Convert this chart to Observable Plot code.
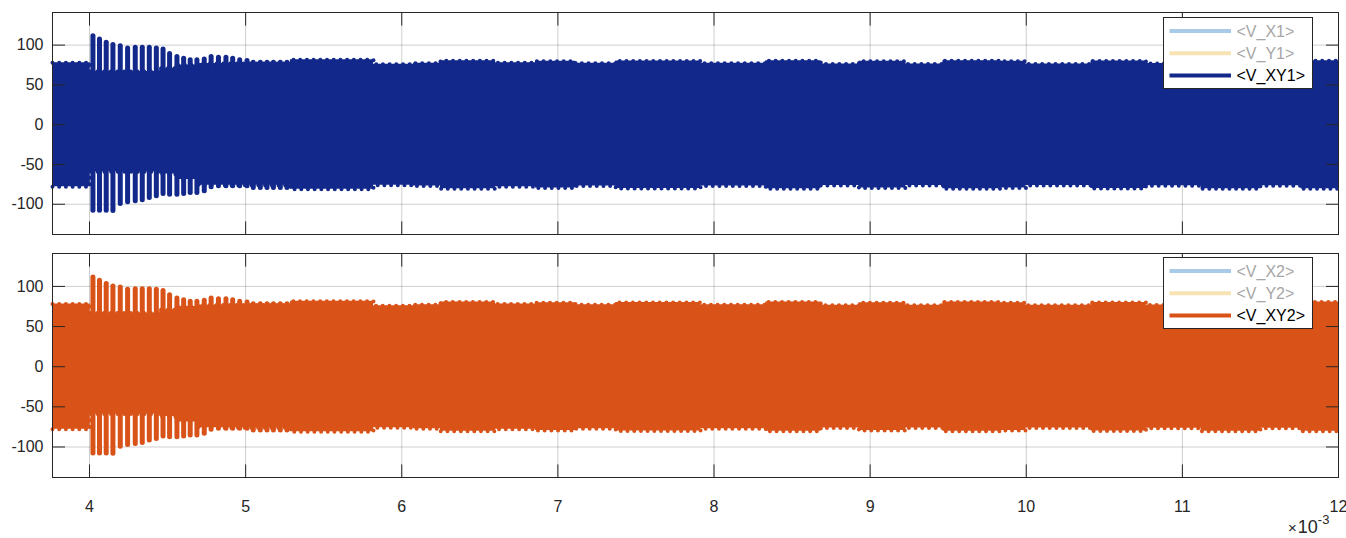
<!DOCTYPE html>
<html>
<head>
<meta charset="utf-8">
<script src="https://cdn.jsdelivr.net/npm/d3@7"></script>
<script src="https://cdn.jsdelivr.net/npm/@observablehq/plot@0.6"></script>
<style>
  html, body { margin: 0; padding: 0; background: #ffffff; }
  #wrap { position: relative; width: 1346px; height: 538px; font-family: "Liberation Sans", Arial, Helvetica, sans-serif; color: #262626; }
  .panel { position: absolute; left: 0; }
  .legend { position: absolute; left: 1163px; width: 150px; height: 72px; background: #fff; border: 1px solid #262626; box-sizing: border-box; }
  .legend svg, #mult svg { display: block; }
</style>
</head>
<body>
<div id="wrap">
  <div id="p1" class="panel" style="top:0px"></div>
  <div id="p2" class="panel" style="top:240px"></div>
  <div id="lg1" class="legend" style="top:17px"></div>
  <div id="lg2" class="legend" style="top:257px"></div>
  <div id="mult" style="position:absolute;left:1280px;top:506px;width:66px;height:32px"></div>
</div>
<script>
// ---- axis ticks ----
const xTicks = [4, 5, 6, 7, 8, 9, 10, 11, 12];
const yTicks = [-100, -50, 0, 50, 100];
const xDomain = [3.763, 12];
const yDomain = [-138, 141];

// ---- signal envelope (time in 1e-3 s, upper / lower envelope) ----
const envT  = [3.763, 4.005, 4.45, 4.55, 4.7, 5.287, 5.819, 6.075, 6.248, 6.601, 6.857, 7.113, 7.370, 7.914, 8.331, 8.684, 8.928, 9.229, 9.466, 9.838, 9.998, 10.415, 10.767, 11.12, 11.50, 11.76, 12];
const envHi = [78, 67, 71, 75, 77, 81.5, 76, 77.2, 80.5, 78, 79.6, 77.2, 80.1, 77.2, 80.5, 76.4, 79.6, 76.4, 80.5, 79.6, 76.4, 80.1, 76.8, 80.5, 76.6, 80.5, 80.5];
const envLo = [-78, -59, -62, -69, -76, -81, -76, -77.2, -80.5, -78, -79.6, -77.2, -80.1, -77.2, -80.5, -76.4, -79.6, -76.4, -80.5, -79.6, -76.4, -80.1, -76.8, -80.5, -76.6, -80.5, -80.5];

// ---- transient peaks after the step at t = 4e-3 ----
const peakT   = [4.022, 4.064, 4.107, 4.150, 4.197, 4.244, 4.293, 4.338, 4.383, 4.428, 4.471, 4.513, 4.560, 4.603, 4.645, 4.688, 4.735, 4.779, 4.826, 4.874, 4.917, 4.962, 5.009, 5.049, 5.094, 5.137, 5.178, 5.222, 5.265];
const peakTop = [111, 107, 103, 100, 98.5, 95.7, 96.6, 96.6, 96.6, 95.7, 94.4, 89, 85, 82.8, 81, 81, 82, 85, 84, 84, 82.8, 81, 80, 77.7, 77.7, 77.7, 77.7, 77.7, 77.7];
const peakBot = [-108, -108, -108, -108.5, -99.6, -97.4, -96.2, -94.9, -92, -89.9, -87, -87.9, -87.9, -87, -85.8, -85.8, -83.6, -78.6, -77.4, -77.4, -77.4, -77.4, -77.4, -79.5, -79.5, -79.5, -79.5, -79.5, -79.5];

// ---- legends ----
const legend1 = ["<V_X1>", "<V_Y1>", "<V_XY1>"];
const legend2 = ["<V_X2>", "<V_Y2>", "<V_XY2>"];
const legendColors1 = ["#a9cbe7", "#f7e3b4", "#12288a"];
const legendColors2 = ["#a9cbe7", "#f7e3b4", "#d95319"];
const legendText = ["#a6a6a6", "#a6a6a6", "#000000"];

const env = envT.map((t, i) => ({t, hi: envHi[i], lo: envLo[i]}));
const peaks = peakT.map((t, i) => ({t, top: peakTop[i], bot: peakBot[i]}));

const INK = "#262626";
const FONT = "'Liberation Sans', Arial, Helvetica, sans-serif";

function panel(color, showX, height, mt, mb) {
  return Plot.plot({
    width: 1346, height,
    marginLeft: 52, marginRight: 8, marginTop: mt, marginBottom: mb,
    style: {fontFamily: FONT, fontSize: "16px", color: INK, background: "transparent", overflow: "visible"},
    x: {domain: xDomain, axis: null},
    y: {domain: yDomain, axis: null},
    marks: [
      Plot.gridX(xTicks, {stroke: INK, strokeOpacity: 0.22}),
      Plot.gridY(yTicks, {stroke: INK, strokeOpacity: 0.22}),
      Plot.areaY(env, {x: "t", y1: "lo", y2: "hi", curve: "step-after", fill: color}),
      Plot.line(env, {x: "t", y: "hi", curve: "step-after", stroke: color, strokeWidth: 4, strokeLinecap: "round", strokeDasharray: "0 6.7"}),
      Plot.line(env, {x: "t", y: "lo", curve: "step-after", stroke: color, strokeWidth: 4, strokeLinecap: "round", strokeDasharray: "0 6.7"}),
      Plot.ruleX(peaks, {x: "t", y1: 50, y2: "top", stroke: color, strokeWidth: 5, strokeLinecap: "round"}),
      Plot.ruleX(peaks, {x: "t", y1: -50, y2: "bot", stroke: color, strokeWidth: 5, strokeLinecap: "round"}),
      Plot.axisY(yTicks, {anchor: "left", tickSize: -13, tickPadding: 22, tickFormat: d => String(d), stroke: INK, fill: INK, fontSize: 16, label: null}),
      Plot.axisY(yTicks, {anchor: "right", tickSize: -13, stroke: INK, fill: "none", label: null}),
      Plot.axisX(xTicks, {anchor: "top", tickSize: -12.6, stroke: INK, fill: "none", label: null}),
      Plot.axisX(xTicks, {anchor: "bottom", tickSize: -12.6, tickPadding: 36, tickFormat: d => String(d), stroke: INK, fill: showX ? INK : "none", fontSize: 16, label: null}),
      Plot.frame({stroke: INK})
    ]
  });
}

document.getElementById("p1").append(panel("#12288a", false, 245, 12, 11));
document.getElementById("p2").append(panel("#d95319", true, 298, 13, 61));

function legend(el, labels, colors) {
  const svg = d3.select(el).append("svg").attr("width", 148).attr("height", 70);
  labels.forEach((lab, i) => {
    const cy = 13 + i * 22.3;
    svg.append("line").attr("x1", 5.5).attr("x2", 67).attr("y1", cy).attr("y2", cy)
      .attr("stroke", colors[i]).attr("stroke-width", 4);
    svg.append("text").attr("x", 72.5).attr("y", cy).attr("dy", "0.35em")
      .attr("font-size", 16).attr("font-family", FONT)
      .attr("fill", legendText[i]).text(lab);
  });
}
legend(document.getElementById("lg1"), legend1, legendColors1);
legend(document.getElementById("lg2"), legend2, legendColors2);

const m = d3.select("#mult").append("svg").attr("width", 66).attr("height", 32);
const t = m.append("text").attr("x", 8).attr("y", 27).attr("font-size", 18)
  .attr("font-family", FONT).attr("fill", INK);
t.append("tspan").attr("font-size", 15).text("×");
t.append("tspan").attr("dx", 1).text("10");
t.append("tspan").attr("font-size", 13).attr("dy", -9).text("-3");
</script>
</body>
</html>
